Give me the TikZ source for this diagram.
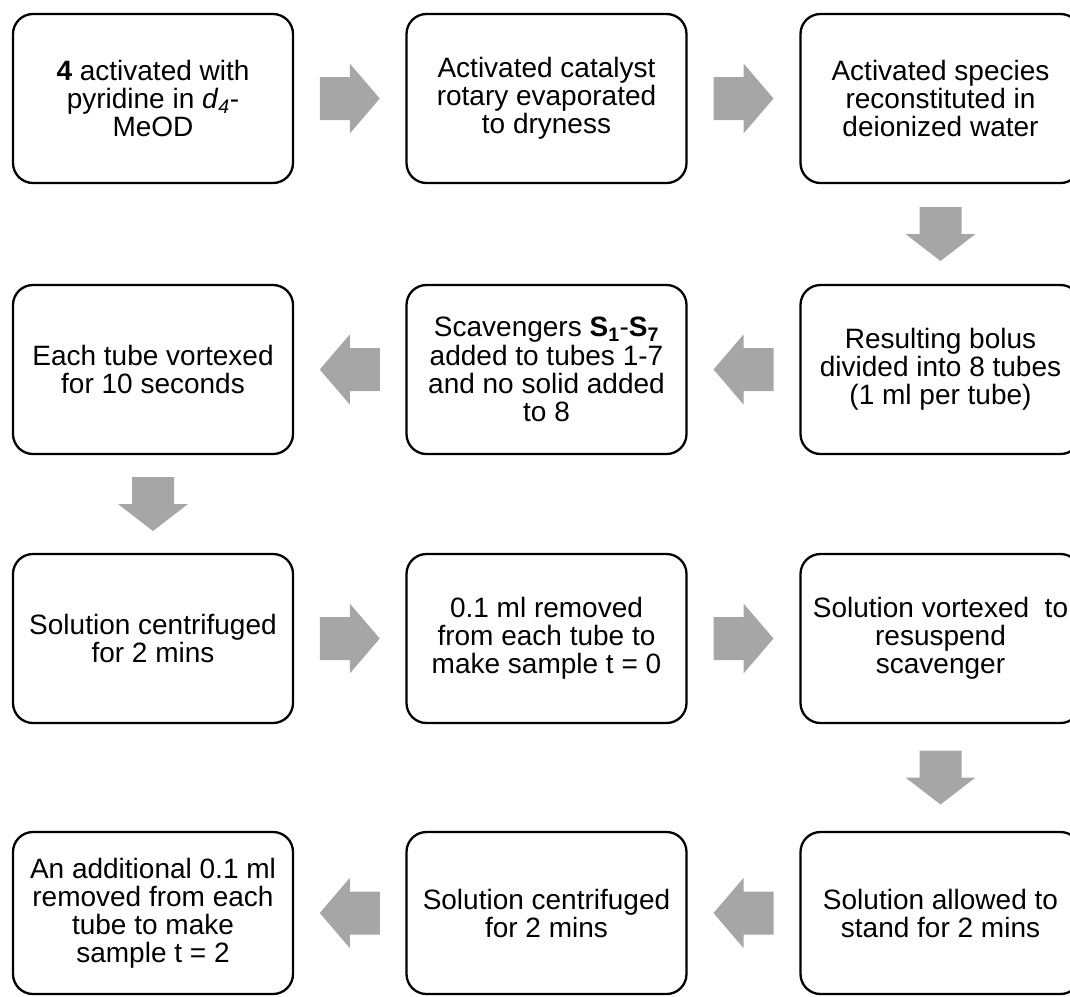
\documentclass[tikz,border=0pt]{standalone}
\usepackage{fontspec}
\setmainfont{Liberation Sans}
\usetikzlibrary{calc}
\definecolor{arrowgray}{HTML}{A6A6A6}
\begin{document}
\begin{tikzpicture}[x=1pt,y=-1pt,
  box/.style={draw=black, line width=2.3pt, rounded corners=20pt, fill=white,
    minimum width=280pt, minimum height=169pt, align=center, inner sep=0pt,
    font=\fontsize{28}{28}\selectfont},
  harrow/.pic={\fill[arrowgray] (-30pt,-21.5pt) -- (0pt,-21.5pt) -- (0pt,-35pt) -- (30pt,0pt) -- (0pt,35pt) -- (0pt,21.5pt) -- (-30pt,21.5pt) -- cycle;},
  varrow/.pic={\fill[arrowgray] (-27pt,-21pt) -- (0pt,-21pt) -- (0pt,-35pt) -- (27pt,0pt) -- (0pt,35pt) -- (0pt,21pt) -- (-27pt,21pt) -- cycle;}]
\useasboundingbox (0,0) rectangle (1070,996);

% row 1
\node[box] (a1) at (153,98.5) {\textbf{4} activated with\\pyridine in \textit{d}\textsubscript{\textit{4}}-\\MeOD};
\node[box] (a2) at (546.5,98.5) {Activated catalyst\\rotary evaporated\\to dryness};
\node[box] (a3) at (940.5,98.5) {Activated species\\reconstituted in\\deionized water};
% row 2
\node[box] (b3) at (940.5,369.5) {Resulting bolus\\divided into 8 tubes\\(1 ml per tube)};
\node[box] (b2) at (546.5,369.5) {Scavengers \textbf{S\textsubscript{1}}-\textbf{S\textsubscript{7}}\\[1pt]added to tubes 1-7\\and no solid added\\to 8};
\node[box] (b1) at (153,369.5) {Each tube vortexed\\for 10 seconds};
% row 3
\node[box] (c1) at (153,638.5) {Solution centrifuged\\for 2 mins};
\node[box] (c2) at (546.5,638.5) {0.1 ml removed\\from each tube to\\make sample t = 0};
\node[box] (c3) at (940.5,638.5) {Solution vortexed\ \ to\\resuspend\\scavenger};
% row 4
\node[box, minimum height=162pt] (d3) at (940.5,913) {Solution allowed to\\stand for 2 mins};
\node[box, minimum height=162pt] (d2) at (546.5,913) {Solution centrifuged\\for 2 mins};
\node[box, minimum height=162pt] (d1) at (153,913) {An additional 0.1 ml\\removed from each\\tube to make\\sample t = 2};

% connectors (block arrows)
\path ($(a1.east)!0.5!(a2.west)$) pic {harrow};
\path ($(a2.east)!0.5!(a3.west)$) pic {harrow};
\path ($(a3.south)!0.5!(b3.north)$) pic[rotate=-90] {varrow};
\path ($(b3.west)!0.5!(b2.east)$) pic[rotate=180] {harrow};
\path ($(b2.west)!0.5!(b1.east)$) pic[rotate=180] {harrow};
\path ($(b1.south)!0.5!(c1.north)$) pic[rotate=-90] {varrow};
\path ($(c1.east)!0.5!(c2.west)$) pic {harrow};
\path ($(c2.east)!0.5!(c3.west)$) pic {harrow};
\path ($(c3.south)!0.5!(d3.north)$) pic[rotate=-90] {varrow};
\path ($(d3.west)!0.5!(d2.east)$) pic[rotate=180] {harrow};
\path ($(d2.west)!0.5!(d1.east)$) pic[rotate=180] {harrow};
\end{tikzpicture}
\end{document}
